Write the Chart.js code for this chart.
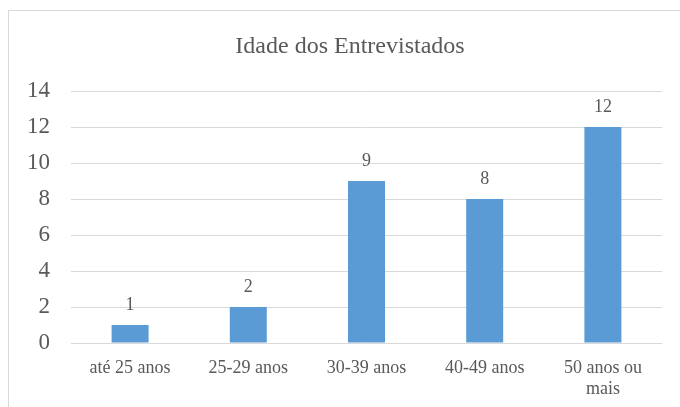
<!DOCTYPE html>
<html>
<head>
<meta charset="utf-8">
<script src="https://cdn.jsdelivr.net/npm/chart.js@4/dist/chart.umd.min.js"></script>
<style>
  body { margin: 0; background: #fff; }
  #wrap { width: 680px; height: 407px; position: relative; }
</style>
</head>
<body>
<div id="wrap"><canvas id="idadeChart"></canvas></div>
<script>
// Chart values
const categorias = ['até 25 anos', '25-29 anos', '30-39 anos', '40-49 anos', ['50 anos ou', 'mais']];
const entrevistados = [1, 2, 9, 8, 12];
const titulo = 'Idade dos Entrevistados';
const yMin = 0;
const yMax = 14;
const yStep = 2;

const serif = "'Times New Roman', 'Liberation Serif', serif";
const textColor = '#595959';

// Frame around the chart area + the title, centered on the frame
const framePlugin = {
    id: 'frame',
    beforeDraw(chart) {
        const c = chart.ctx;
        c.save();
        c.strokeStyle = '#d9d9d9';
        c.lineWidth = 1;
        c.strokeRect(8.5, 10.5, chart.width + 20, chart.height + 20);
        c.font = '24px ' + serif;
        c.fillStyle = textColor;
        c.textAlign = 'center';
        c.textBaseline = 'alphabetic';
        c.fillText(titulo, 350, 53);
        c.restore();
    }
};

// Value labels above each bar
const valueLabels = {
    id: 'valueLabels',
    afterDatasetsDraw(chart) {
        const c = chart.ctx;
        c.save();
        c.font = '18px ' + serif;
        c.fillStyle = textColor;
        c.textAlign = 'center';
        c.textBaseline = 'alphabetic';
        chart.getDatasetMeta(0).data.forEach((bar, i) => {
            c.fillText(entrevistados[i], bar.x, bar.y - 15);
        });
        c.restore();
    }
};

const ctx = document.getElementById('idadeChart').getContext('2d');
const idadeChart = new Chart(ctx, {
    type: 'bar',
    data: {
        labels: categorias,
        datasets: [{
            data: entrevistados,
            backgroundColor: '#5b9bd5',
            barPercentage: 0.313,
            categoryPercentage: 1
        }]
    },
    options: {
        responsive: true,
        maintainAspectRatio: false,
        animation: false,
        layout: { padding: { left: 0, right: 18, top: 91, bottom: 0 } },
        plugins: {
            legend: { display: false },
            tooltip: { enabled: false },
            title: { display: false }
        },
        scales: {
            x: {
                grid: { display: false },
                border: { display: false },
                ticks: {
                    color: textColor,
                    font: { family: serif, size: 18 },
                    padding: 6,
                    maxRotation: 0,
                    autoSkip: false
                },
                afterFit(scale) { scale.height = 64; }
            },
            y: {
                min: yMin,
                max: yMax,
                grid: { color: '#d9d9d9', lineWidth: 1, drawTicks: false },
                border: { display: false },
                ticks: {
                    stepSize: yStep,
                    color: textColor,
                    font: { family: serif, size: 23 },
                    padding: 21
                },
                afterFit(scale) { scale.width = 71; }
            }
        }
    },
    plugins: [framePlugin, valueLabels]
});
</script>
</body>
</html>
